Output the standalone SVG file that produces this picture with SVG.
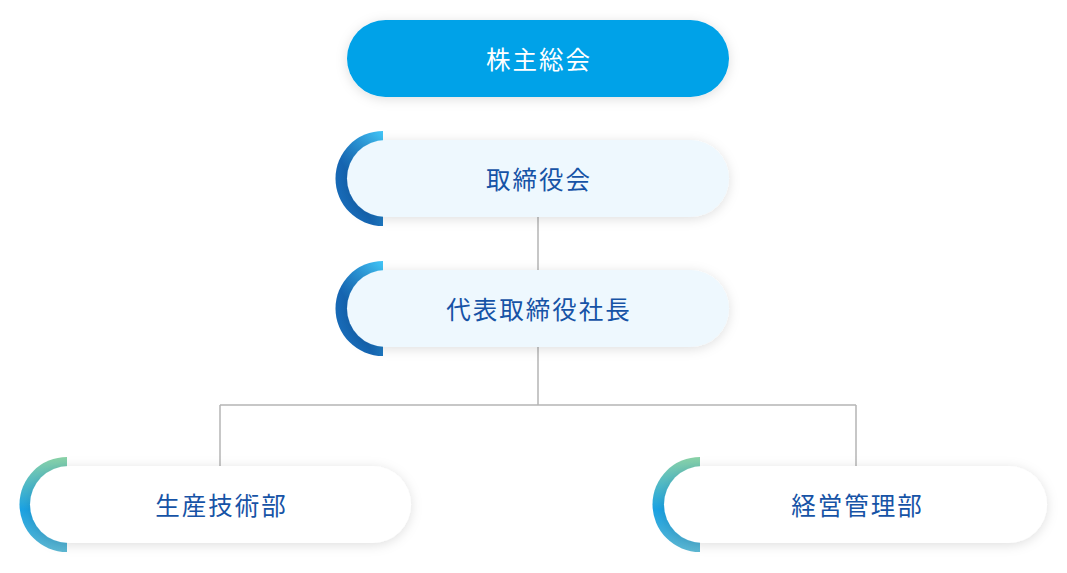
<svg xmlns="http://www.w3.org/2000/svg" width="1067" height="573" viewBox="0 0 1067 573">
<style>
.lbl{font-family:"Noto Sans CJK JP","Noto Sans",sans-serif;font-size:24.5px;letter-spacing:2px;text-anchor:middle;dominant-baseline:central;fill:#1653a6}
.top{fill:#ffffff}
.conn{stroke:#b4b4b4;stroke-width:1.5;fill:none}
.pillA{fill:#eef8fe;filter:url(#sh)}
.pillB{fill:#ffffff;filter:url(#sh)}
</style>
<defs>
<filter id="sh" x="-20%" y="-50%" width="140%" height="200%">
<feDropShadow dx="0" dy="2" stdDeviation="6" flood-color="#000" flood-opacity="0.13"/>
</filter>
<linearGradient id="gA" x1="1" y1="0" x2="0" y2="1">
<stop offset="0" stop-color="#42c6f8"/>
<stop offset="0.6" stop-color="#1565b2"/>
<stop offset="1" stop-color="#1a70bc"/>
</linearGradient>
<linearGradient id="gB" x1="0" y1="0" x2="0" y2="1">
<stop offset="0" stop-color="#8ad2a6"/>
<stop offset="0.55" stop-color="#1ba3e4"/>
<stop offset="1" stop-color="#5db7d2"/>
</linearGradient>
</defs>
<g id="connectors">
<path class="conn" d="M538,217V270"/>
<path class="conn" d="M538,347V405"/>
<path class="conn" d="M220,405H856"/>
<path class="conn" d="M220,405V466"/>
<path class="conn" d="M856,405V466"/>
</g>
<g id="n1">
<rect x="347" y="20" width="382" height="77" rx="38.5" fill="#00a2e8" filter="url(#sh)"/>
<text class="lbl top" x="539" y="58">株主総会</text>
</g>
<g id="n2">
<path d="M383,131A47.5,47.5 0 0 0 383,226Z" fill="url(#gA)"/>
<rect class="pillA" x="347" y="140" width="382" height="77" rx="38.5"/>
<text class="lbl" x="539" y="178">取締役会</text>
</g>
<g id="n3">
<path d="M383,261A47.5,47.5 0 0 0 383,356Z" fill="url(#gA)"/>
<rect class="pillA" x="347" y="270" width="382" height="77" rx="38.5"/>
<text class="lbl" x="539" y="308">代表取締役社長</text>
</g>
<g id="n4">
<path d="M67,457A47.5,47.5 0 0 0 67,552Z" fill="url(#gB)"/>
<rect class="pillB" x="30" y="466" width="381" height="77" rx="38.5"/>
<text class="lbl" x="221.5" y="504">生産技術部</text>
</g>
<g id="n5">
<path d="M700,457A47.5,47.5 0 0 0 700,552Z" fill="url(#gB)"/>
<rect class="pillB" x="664" y="466" width="383" height="77" rx="38.5"/>
<text class="lbl" x="857.5" y="504">経営管理部</text>
</g>
</svg>
